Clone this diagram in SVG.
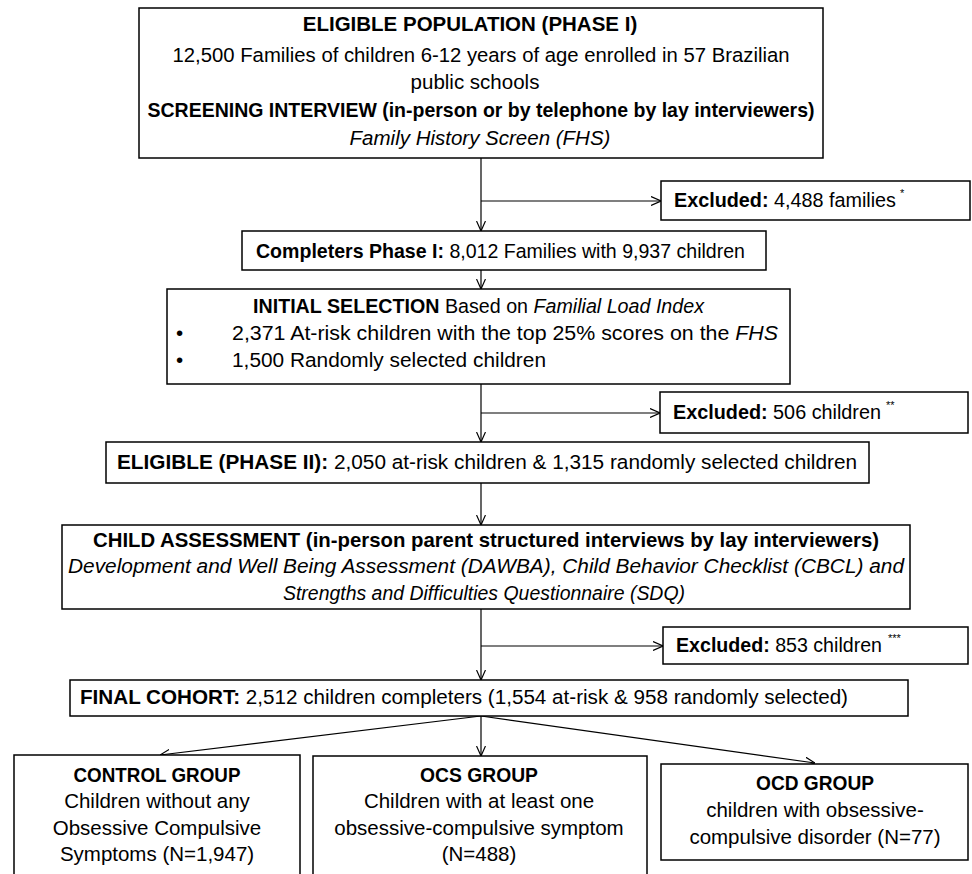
<svg xmlns="http://www.w3.org/2000/svg" width="972" height="874" viewBox="0 0 972 874">
<defs>
<marker id="arr" viewBox="0 0 10 10" refX="10" refY="5" markerWidth="10" markerHeight="10" markerUnits="userSpaceOnUse" orient="auto">
<polyline points="0,0.5 10,5 0,9.5" fill="none" stroke="#000" stroke-width="1.2"/>
</marker>
<style>
rect{fill:#fff;stroke:#000;stroke-width:1.5}
text{font-family:"Liberation Sans",Arial,sans-serif;font-size:20.5px;fill:#000}
.c{text-anchor:middle}
.b{font-weight:bold}
.i{font-style:italic}
.sup{font-size:11px}
#connectors line{stroke:#000;stroke-width:1.2;fill:none}
</style>
</defs>
<rect x="0" y="0" width="972" height="874" style="fill:#fff;stroke:none"/>
<g id="connectors">
<line x1="481" y1="158" x2="481" y2="231" marker-end="url(#arr)"/>
<line x1="481" y1="201" x2="661" y2="201" marker-end="url(#arr)"/>
<line x1="481" y1="270" x2="481" y2="289" marker-end="url(#arr)"/>
<line x1="481" y1="384" x2="481" y2="442" marker-end="url(#arr)"/>
<line x1="481" y1="413" x2="660" y2="413" marker-end="url(#arr)"/>
<line x1="481" y1="483" x2="481" y2="525" marker-end="url(#arr)"/>
<line x1="481" y1="609" x2="481" y2="680" marker-end="url(#arr)"/>
<line x1="481" y1="646" x2="663" y2="646" marker-end="url(#arr)"/>
<line x1="481" y1="716" x2="160" y2="755" marker-end="url(#arr)"/>
<line x1="481" y1="716" x2="481" y2="756" marker-end="url(#arr)"/>
<line x1="481" y1="716" x2="815" y2="763" marker-end="url(#arr)"/>
</g>
<g id="eligible-population">
<rect x="139" y="8" width="684" height="150"/>
<text class="b c" x="470" y="31">ELIGIBLE  POPULATION (PHASE I)</text>
<text class="c" x="481" y="62" textLength="617" lengthAdjust="spacingAndGlyphs">12,500 Families of children 6-12 years of age enrolled in 57 Brazilian</text>
<text class="c" x="475" y="89">public  schools</text>
<text class="b c" x="481" y="117" textLength="667" lengthAdjust="spacingAndGlyphs">SCREENING INTERVIEW (in-person or by telephone by lay interviewers)</text>
<text class="c i" x="480" y="145">Family History Screen (FHS)</text>
</g>
<g id="excluded-1">
<rect x="661" y="181" width="309" height="39"/>
<text x="674" y="207" textLength="222" lengthAdjust="spacingAndGlyphs"><tspan class="b">Excluded:</tspan> 4,488 families</text>
<text class="sup" x="900" y="197">*</text>
</g>
<g id="completers">
<rect x="242" y="231" width="524" height="39"/>
<text x="256" y="258" textLength="489" lengthAdjust="spacingAndGlyphs"><tspan class="b">Completers Phase I:</tspan> 8,012 Families with 9,937 children</text>
</g>
<g id="initial-selection">
<rect x="167" y="289" width="623" height="95"/>
<text x="253" y="313" textLength="451" lengthAdjust="spacingAndGlyphs"><tspan class="b">INITIAL SELECTION</tspan> Based on <tspan class="i">Familial Load Index</tspan></text>
<text x="176" y="340">•</text>
<text x="232" y="340" textLength="546" lengthAdjust="spacingAndGlyphs">2,371  At-risk children with the top 25% scores on the <tspan class="i">FHS</tspan></text>
<text x="176" y="367">•</text>
<text x="232" y="367" textLength="314" lengthAdjust="spacingAndGlyphs">1,500 Randomly selected children</text>
</g>
<g id="excluded-2">
<rect x="660" y="392" width="308" height="41"/>
<text x="673" y="419" textLength="208" lengthAdjust="spacingAndGlyphs"><tspan class="b">Excluded:</tspan> 506 children</text>
<text class="sup" x="886" y="409">**</text>
</g>
<g id="eligible-phase2">
<rect x="106" y="442" width="763" height="41"/>
<text x="117" y="469" textLength="740" lengthAdjust="spacingAndGlyphs"><tspan class="b">ELIGIBLE (PHASE II):</tspan>  2,050 at-risk children &amp; 1,315 randomly selected children</text>
</g>
<g id="child-assessment">
<rect x="62" y="525" width="848" height="84"/>
<text class="b c" x="486" y="547" textLength="786" lengthAdjust="spacingAndGlyphs">CHILD ASSESSMENT (in-person parent structured interviews by lay interviewers)</text>
<text class="i c" x="486" y="573" textLength="836" lengthAdjust="spacingAndGlyphs">Development and Well Being Assessment (DAWBA), Child Behavior Checklist (CBCL) and</text>
<text class="i c" x="484" y="600" textLength="402" lengthAdjust="spacingAndGlyphs">Strengths and Difficulties Questionnaire (SDQ)</text>
</g>
<g id="excluded-3">
<rect x="663" y="627" width="305" height="37"/>
<text x="676" y="652" textLength="206" lengthAdjust="spacingAndGlyphs"><tspan class="b">Excluded:</tspan> 853 children</text>
<text class="sup" x="888" y="642">***</text>
</g>
<g id="final-cohort">
<rect x="70" y="680" width="838" height="36"/>
<text x="80" y="704" textLength="768" lengthAdjust="spacingAndGlyphs"><tspan class="b">FINAL COHORT:</tspan>  2,512 children completers (1,554 at-risk &amp; 958 randomly selected)</text>
</g>
<g id="control-group">
<rect x="14" y="755" width="286" height="122"/>
<text class="b c" x="157" y="782" textLength="167" lengthAdjust="spacingAndGlyphs">CONTROL GROUP</text>
<text class="c" x="157" y="808">Children without any</text>
<text class="c" x="157" y="835">Obsessive Compulsive</text>
<text class="c" x="157" y="861">Symptoms (N=1,947)</text>
</g>
<g id="ocs-group">
<rect x="313" y="756" width="334" height="121"/>
<text class="b c" x="479" y="782" textLength="118" lengthAdjust="spacingAndGlyphs">OCS GROUP</text>
<text class="c" x="479" y="808">Children with at least one</text>
<text class="c" x="479" y="835">obsessive-compulsive  symptom</text>
<text class="c" x="479" y="861">(N=488)</text>
</g>
<g id="ocd-group">
<rect x="661" y="764" width="307" height="96"/>
<text class="b c" x="815" y="790" textLength="118" lengthAdjust="spacingAndGlyphs">OCD GROUP</text>
<text class="c" x="815" y="817">children with obsessive-</text>
<text class="c" x="815" y="844">compulsive disorder (N=77)</text>
</g>
</svg>
